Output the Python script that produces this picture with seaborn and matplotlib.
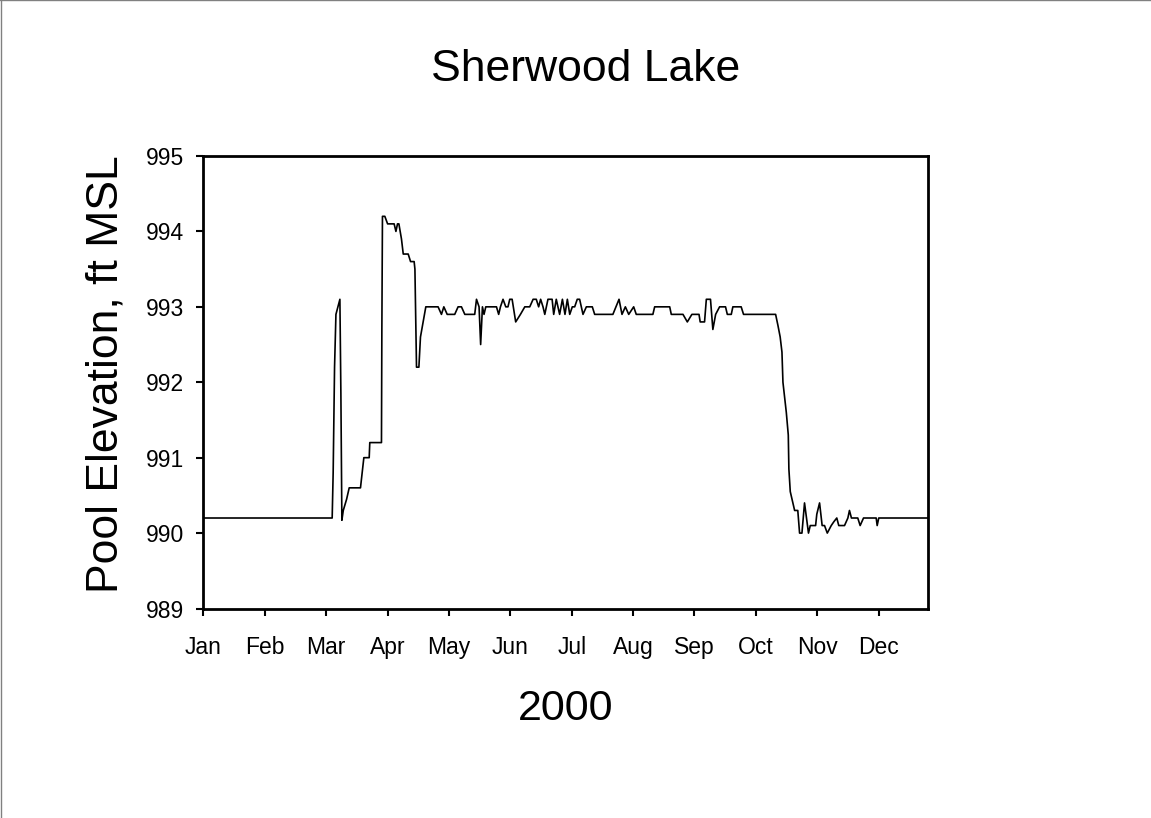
import seaborn as sns
import matplotlib
matplotlib.use("Agg")
import matplotlib.pyplot as plt
from matplotlib.lines import Line2D
import pandas as pd

#### data (day of year 2000, pool elevation ft MSL)
day = [0, 65.0, 65.5, 66.2, 66.9, 68.9, 69.4, 69.9,
       70.6, 72.3, 73.6, 79.3, 81.0, 83.7, 84.0, 89.9, 90.1, 90.4,
       91.6, 93.0, 96.3, 97.2, 98.0, 98.7, 100.0, 100.9, 103.4, 104.6,
       106.4, 106.8, 107.6, 108.8, 109.6, 110.6, 112.3,
       118.5, 120.2, 121.4, 123.1, 126.9, 128.6, 130.3, 132.0, 137.0, 137.9,
       139.2, 140.0, 140.9, 141.7, 142.6, 148.0, 149.1, 150.0, 151.3, 152.7,
       153.8, 154.7, 155.9, 157.7, 160.1, 162.3, 164.8, 166.5, 168.1, 169.3,
       170.3, 171.5, 172.4, 174.0, 176.1, 176.9, 178.2, 179.9, 181.3, 182.6,
       183.8, 185.0, 186.3, 187.5, 188.8, 190.0, 191.7, 193.4, 196.4, 197.6,
       206.8, 209.9, 211.4, 213.1, 214.8, 217.3, 218.6, 227.0, 227.9, 235.5,
       236.3, 242.2, 244.4, 246.7, 250.3, 250.9, 253.1, 254.0, 256.1, 257.3,
       258.7, 260.7, 263.7, 264.6, 266.6, 267.4, 271.6, 272.8, 289.0,
       290.2, 291.3, 292.2, 292.7, 294.4, 295.4, 295.7, 296.4, 297.7, 298.6,
       300.2, 301.1, 302.3, 303.6, 305.6, 306.5, 309.2, 309.8, 311.2, 312.5,
       313.7, 315.1, 317.1, 318.4, 319.9, 320.9, 323.8, 325.5, 326.3, 327.3,
       330.5, 331.7, 333.4, 339.8, 340.3, 341.1, 366]
elev = [990.2, 990.2, 990.8, 992.2, 992.9, 993.1, 991.85, 990.17,
        990.3, 990.45, 990.6, 990.6, 991.0, 991.0, 991.2, 991.2, 992.7, 994.2,
        994.2, 994.1, 994.1, 994.0, 994.1, 994.1, 993.9, 993.7, 993.7, 993.6,
        993.6, 993.5, 992.2, 992.2, 992.6, 992.75, 993.0,
        993.0, 992.9, 993.0, 992.9, 992.9, 993.0, 993.0, 992.9, 992.9, 993.1,
        993.0, 992.5, 993.0, 992.9, 993.0, 993.0, 992.9, 993.0, 993.1, 993.0,
        993.0, 993.1, 993.1, 992.8, 992.9, 993.0, 993.0, 993.1, 993.1, 993.0,
        993.1, 993.0, 992.9, 993.1, 993.1, 992.9, 993.1, 992.9, 993.1, 992.9,
        993.1, 992.9, 993.0, 993.0, 993.1, 993.1, 992.9, 993.0, 993.0, 992.9,
        992.9, 993.1, 992.9, 993.0, 992.9, 993.0, 992.9, 992.9, 993.0, 993.0,
        992.9, 992.9, 992.8, 992.9, 992.9, 992.8, 992.8, 993.1, 993.1, 992.7,
        992.9, 993.0, 993.0, 992.9, 992.9, 993.0, 993.0, 992.9, 992.9,
        992.75, 992.6, 992.4, 992.0, 991.6, 991.3, 990.85, 990.55, 990.4, 990.3,
        990.3, 990.0, 990.0, 990.4, 990.0, 990.1, 990.1, 990.25, 990.4, 990.1,
        990.1, 990.0, 990.1, 990.15, 990.2, 990.1, 990.1, 990.2, 990.3, 990.2,
        990.2, 990.1, 990.2, 990.2, 990.1, 990.2, 990.2]

month_ticks = [0, 31, 62, 93, 124, 155, 186, 217, 248, 279, 310, 341]
month_labels = ["Jan", "Feb", "Mar", "Apr", "May", "Jun",
                "Jul", "Aug", "Sep", "Oct", "Nov", "Dec"]
elev_ticks = [989, 990, 991, 992, 993, 994, 995]
##################

sns.set_theme(style="ticks")
plt.rcParams['font.family'] = ['Liberation Sans', 'DejaVu Sans']

df = pd.DataFrame({"day": day, "elev": elev})

fig = plt.figure(figsize=(11.51, 8.18), dpi=100)
ax = fig.add_axes([0.1768, 0.2561, 0.6295, 0.5532])

sns.lineplot(data=df, x="day", y="elev", estimator=None, sort=False,
             color="black", linewidth=1.2, ax=ax)

ax.set_xlim(0, 366)
ax.set_ylim(989, 995)
ax.set_xticks(month_ticks)
ax.set_xticklabels(month_labels)
ax.set_yticks(elev_ticks)

for s in ax.spines.values():
	s.set_visible(True)
	s.set_color("black")
	s.set_linewidth(2)

ax.tick_params(axis="x", direction="out", length=5, width=1.5, color="black",
               labelsize=16.5, pad=14.5, labelcolor="black")
ax.tick_params(axis="y", direction="out", length=5, width=1.5, color="black",
               labelsize=16.5, pad=9, labelcolor="black")

ax.set_xlabel("2000", fontsize=31, color="black")
ax.set_ylabel("Pool Elevation, ft MSL", fontsize=32, color="black")
ax.xaxis.set_label_coords(0.5, -0.178)
ax.yaxis.set_label_coords(-0.106, 0.518)

fig.text(0.509, 0.901, "Sherwood Lake", fontsize=32, ha="center",
         va="baseline", color="black")

# thin page border (top and left only, as in the original)
fig.add_artist(Line2D([0.0005, 0.0005], [0, 0.9995], transform=fig.transFigure,
                      color="#808080", linewidth=1))
fig.add_artist(Line2D([0, 1], [0.9995, 0.9995], transform=fig.transFigure,
                      color="#808080", linewidth=1))

fig.savefig("out.png", dpi=100, facecolor="white")
